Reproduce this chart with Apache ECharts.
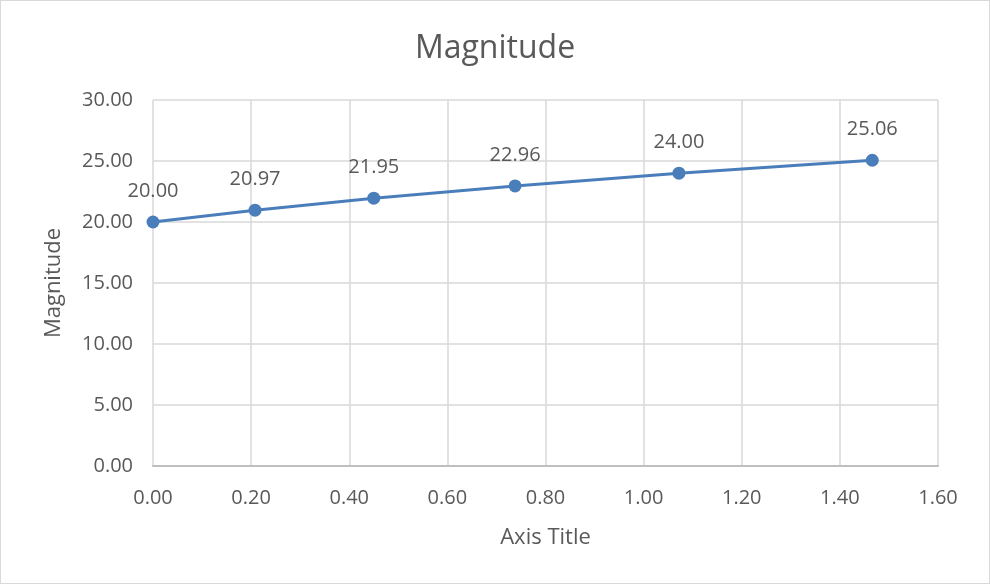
<!DOCTYPE html>
<html>
<head>
<meta charset="utf-8">
<script src="https://cdn.jsdelivr.net/npm/echarts@6/dist/echarts.min.js"></script>
<style>
    html, body { margin: 0; padding: 0; background: #fff; }
    #chart { width: 990px; height: 584px; box-sizing: border-box; border: 1px solid #d9d9d9; }
</style>
</head>
<body>
<div id="chart"></div>
<script>
// x values
var xValues = [0.00, 0.208, 0.450, 0.738, 1.072, 1.466];
// magnitude values
var magnitude = [20.00, 20.97, 21.95, 22.96, 24.00, 25.06];

var textColor = '#595959';
var fontFamily = 'Open Sans, Noto Sans, sans-serif';

var myChart = echarts.init(document.getElementById('chart'));
var option = {
    animation: false,
    title: {
        text: 'Magnitude',
        left: 'center',
        top: 27,
        textStyle: { color: textColor, fontSize: 32, fontWeight: 'normal', fontFamily: fontFamily }
    },
    grid: { left: 152, right: 51, top: 99, bottom: 117 },
    xAxis: {
        type: 'value',
        min: 0,
        max: 1.6,
        interval: 0.2,
        name: 'Axis Title',
        nameLocation: 'middle',
        nameGap: 61,
        nameTextStyle: { color: textColor, fontSize: 22, fontFamily: fontFamily },
        axisLine: { lineStyle: { color: '#bfbfbf', width: 2 } },
        axisTick: { show: false },
        axisLabel: {
            color: textColor, fontSize: 20, fontFamily: fontFamily, margin: 22,
            formatter: function (v) { return v.toFixed(2); }
        },
        splitLine: { show: true, lineStyle: { color: '#d9d9d9', width: 1.5 } }
    },
    yAxis: {
        type: 'value',
        min: 0,
        max: 30,
        interval: 5,
        name: 'Magnitude',
        nameLocation: 'middle',
        nameGap: 88,
        nameTextStyle: { color: textColor, fontSize: 22, fontFamily: fontFamily },
        axisLine: { show: false },
        axisTick: { show: false },
        axisLabel: {
            color: textColor, fontSize: 20, fontFamily: fontFamily, margin: 20,
            formatter: function (v) { return v.toFixed(2); }
        },
        splitLine: { show: true, lineStyle: { color: '#d9d9d9', width: 1.5 } }
    },
    series: [{
        name: 'Magnitude',
        type: 'line',
        data: xValues.map(function (x, i) { return [x, magnitude[i]]; }),
        symbol: 'circle',
        symbolSize: 13,
        lineStyle: { color: '#4a7ebb', width: 3 },
        itemStyle: { color: '#4a7ebb' },
        label: {
            show: true,
            position: 'top',
            distance: 14,
            color: textColor,
            fontSize: 20,
            fontFamily: fontFamily,
            formatter: function (p) { return p.value[1].toFixed(2); }
        }
    }]
};
myChart.setOption(option);
</script>
</body>
</html>
